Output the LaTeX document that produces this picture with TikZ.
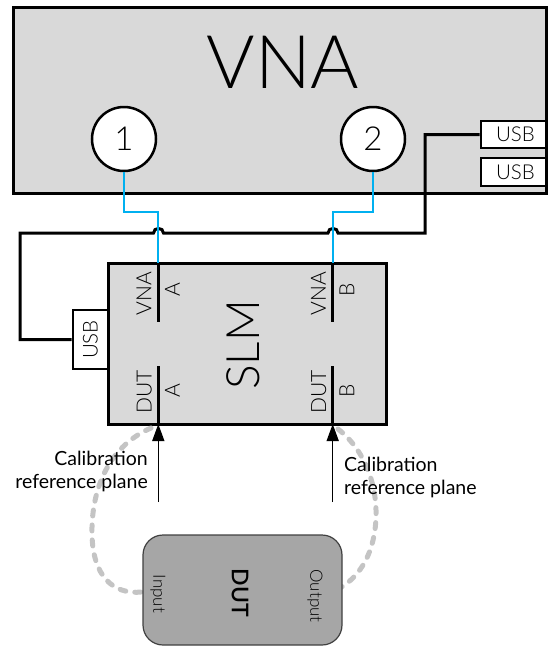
\documentclass[tikz,border=0pt]{standalone}
\usepackage{fontspec}
\setmainfont{Lato Light}[BoldFont={Lato Semibold}]
\newfontfamily\latoreg{Lato}
\usetikzlibrary{arrows.meta}
\definecolor{boxgray}{HTML}{D9D9D9}
\definecolor{dutgray}{HTML}{A6A6A6}
\definecolor{cable}{HTML}{00B0F0}
\definecolor{dashgray}{HTML}{C4C4C4}
\begin{document}
\begin{tikzpicture}[x=1pt,y=-1pt,
  unit/.style={draw=black, line width=3pt, fill=boxgray, inner sep=0pt},
  port/.style={circle, draw, line width=2.5pt, fill=white, minimum size=64pt, inner sep=0pt, font=\fontsize{33}{36}\selectfont},
  usbbox/.style={draw, line width=2.8pt, fill=white, inner sep=0pt, font=\fontsize{20.5}{22}\selectfont},
  rf/.style={draw=cable, line width=2pt},
  usbcable/.style={draw=black, line width=3pt},
  portline/.style={line width=2.5pt},
  lbl/.style={inner sep=0pt, font=\fontsize{21}{22}\selectfont, rotate=90},
  caltext/.style={inner sep=0pt, font=\latoreg\fontsize{19.5}{23}\selectfont},
  calarrow/.style={line width=1.5pt, -{Triangle[length=17pt,width=12pt]}},
  dutloop/.style={draw=dashgray, line width=5pt, line cap=round, dash pattern=on 6pt off 9pt},
  dutlbl/.style={inner sep=0pt, rotate=-90, font=\fontsize{17}{18}\selectfont},
]
\useasboundingbox (0,0) rectangle (548,646);

% VNA
\node (vna) [unit, minimum width=533pt, minimum height=186pt] at (279.5,100) {};
\node (vnatitle) [inner sep=0pt, font=\fontsize{74}{80}\selectfont] at (283,62) {VNA};
\node (p1) [port] at (124,139) {1};
\node (p2) [port] at (373,139) {2};
\node (usb1) [usbbox, minimum width=65pt, minimum height=27pt] at (513.5,134.5) {\hspace*{4pt}USB};
\node (usb2) [usbbox, minimum width=65pt, minimum height=28pt] at (513.5,172) {\hspace*{4pt}USB};

% SLM
\node (usb3) [usbbox, rotate=90, minimum width=59pt, minimum height=35pt] at (90.5,339.5) {USB};
\node (slm) [unit, minimum width=278pt, minimum height=161pt] at (247,343.5) {};
\node (slmtext) [inner sep=0pt, rotate=90, font=\fontsize{46}{50}\selectfont] at (243,345) {SLM};

\coordinate (vaT) at (158.3,263);
\coordinate (vaB) at (158.3,322);
\coordinate (daT) at (158.3,366);
\coordinate (daB) at (158.3,424);
\coordinate (vbT) at (332.7,263);
\coordinate (vbB) at (332.7,322);
\coordinate (dbT) at (332.7,366);
\coordinate (dbB) at (332.7,424);
\draw[portline] (vaT) -- (vaB);
\draw[portline] (daT) -- (daB);
\draw[portline] (vbT) -- (vbB);
\draw[portline] (dbT) -- (dbB);

\node (lva) [lbl] at (144,293.5) {VNA};
\node (lvaa) [lbl] at (172.5,290) {A};
\node (lda) [lbl] at (144.3,392) {DUT};
\node (ldaa) [lbl] at (172.5,391) {A};
\node (lvb) [lbl] at (318.5,293.5) {VNA};
\node (lvbb) [lbl] at (347,290) {B};
\node (ldb) [lbl] at (318.7,392) {DUT};
\node (ldbb) [lbl] at (347,391) {B};

% USB cable with hops
\coordinate (k1) at (425,233);
\coordinate (k2) at (20,233);
\draw[usbcable] (usb1.west) -| (k1) -- (338,233)
  .. controls +(0,-6) and +(0,-6) .. (328,233) -- (163.5,233)
  .. controls +(0,-6) and +(0,-6) .. (153.5,233) -- (k2) |- (usb3.north);

% RF cables
\coordinate (rfa) at (158.3,212);
\coordinate (rfb) at (332.7,212);
\draw[rf] (p1.south) |- (rfa) -- (vaT);
\draw[rf] (p2.south) |- (rfb) -- (vbT);

% dashed loops
\coordinate (la0) at (151,428);
\coordinate (la1) at (92,535);
\coordinate (la2) at (142,592);
\coordinate (lb0) at (338,429);
\coordinate (lb1) at (376,517);
\coordinate (lb2) at (340,588);
\draw[dutloop] (la0) .. controls (105,448) and (91,495) .. (la1) .. controls (93,575) and (112,595) .. (la2);
\draw[dutloop] (lb0) .. controls (365,450) and (377,485) .. (lb1) .. controls (375,550) and (362,575) .. (lb2);

% calibration arrows
\coordinate (ca) at (158.3,502);
\coordinate (cb) at (332.7,502);
\draw[calarrow] (ca) -- (daB);
\draw[calarrow] (cb) -- (dbB);
\node (cal1) [caltext, anchor=east, align=right] at (148,471) {Calibration\\reference plane};
\node (cal2) [caltext, anchor=west, align=left] at (344,477.5) {Calibration\\reference plane};

% DUT
\node (dut) [draw=black!75, line width=1.2pt, fill=dutgray, rounded corners=20pt, minimum width=199pt, minimum height=110pt, inner sep=0pt] at (242.5,590) {};
\node (din) [dutlbl] at (158,594) {Input};
\node (dname) [inner sep=0pt, rotate=-90, font=\bfseries\fontsize{23}{24}\selectfont] at (240,593) {DUT};
\node (dout) [dutlbl] at (315,596) {Output};
\end{tikzpicture}
\end{document}
